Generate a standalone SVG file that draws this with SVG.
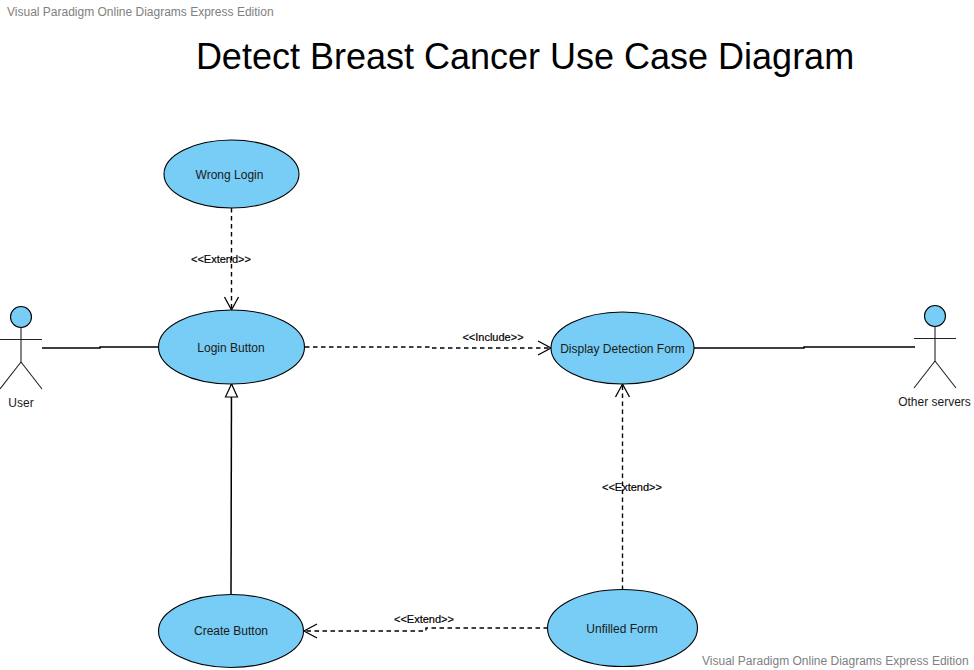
<svg xmlns="http://www.w3.org/2000/svg" width="974" height="670" viewBox="0 0 974 670">
<defs>
<marker id="open" markerUnits="userSpaceOnUse" markerWidth="16" markerHeight="18" refX="13" refY="7" orient="auto" viewBox="0 0 16 14" overflow="visible"><path d="M0 0L13 7L0 14" fill="none" stroke="#000" stroke-width="1.3"/></marker>
<marker id="tri" markerUnits="userSpaceOnUse" markerWidth="16" markerHeight="16" refX="13" refY="6" orient="auto" overflow="visible"><path d="M0 0L13 6L0 12Z" fill="#fff" stroke="#000" stroke-width="1.2"/></marker>
</defs>
<style>
text{font-family:"Liberation Sans",Arial,sans-serif;text-anchor:middle}
.uc{fill:#77cdf5;stroke:#000;stroke-width:1.1}
.lb{font-size:12px;fill:#1a1a1a}
.st{font-size:11px;fill:#000;stroke:#000;stroke-width:.2}
.wm{font-size:12px;fill:#808080;text-anchor:start}
.ln{fill:none;stroke:#000;stroke-width:1.5}
.ds{fill:none;stroke:#000;stroke-width:1.4;stroke-dasharray:4.5 3.5}
.ac{fill:none;stroke:#222;stroke-width:1.1}
</style>
<rect width="974" height="670" fill="#fff"/>
<text class="wm" x="7" y="16">Visual Paradigm Online Diagrams Express Edition</text>
<text class="wm" x="702" y="665">Visual Paradigm Online Diagrams Express Edition</text>
<text x="525" y="69" font-size="36" fill="#000">Detect Breast Cancer Use Case Diagram</text>
<g id="connectors">
<path class="ln" d="M42 348H100V347H158"/>
<path class="ln" d="M694 348H804V347H915"/>
<path class="ds" d="M231.500 208V310" marker-end="url(#open)"/>
<path class="ds" d="M305 347H430V348H551" marker-end="url(#open)"/>
<path class="ln" d="M231 595L231.500 384" marker-end="url(#tri)"/>
<path class="ds" d="M622.500 590V384" marker-end="url(#open)"/>
<path class="ds" d="M548 628H426V631H304" marker-end="url(#open)"/>
<text class="st" x="221" y="263">&lt;&lt;Extend&gt;&gt;</text>
<text class="st" x="493" y="341">&lt;&lt;Include&gt;&gt;</text>
<text class="st" x="632" y="491">&lt;&lt;Extend&gt;&gt;</text>
<text class="st" x="424" y="623">&lt;&lt;Extend&gt;&gt;</text>
</g>
<g id="wrong-login"><ellipse class="uc" cx="231.500" cy="174" rx="67.500" ry="34"/><text class="lb" x="229.500" y="179">Wrong Login</text></g>
<g id="login-button"><ellipse class="uc" cx="231.500" cy="347" rx="73" ry="37"/><text class="lb" x="231" y="352">Login Button</text></g>
<g id="display-detection-form"><ellipse class="uc" cx="622.500" cy="348" rx="71.500" ry="36"/><text class="lb" x="622.500" y="353">Display Detection Form</text></g>
<g id="create-button"><ellipse class="uc" cx="231" cy="631" rx="72.500" ry="36.500"/><text class="lb" x="231" y="635">Create Button</text></g>
<g id="unfilled-form"><ellipse class="uc" cx="622.500" cy="628" rx="75" ry="38.500"/><text class="lb" x="622" y="633">Unfilled Form</text></g>
<g id="user"><circle cx="21" cy="317" r="10.500" fill="#77cdf5" stroke="#000" stroke-width="1.1"/><path class="ac" d="M21 327.500V362M0 339.500H42M21 362L0 389M21 362L42 389"/><text class="lb" x="21" y="407">User</text></g>
<g id="other-servers"><circle cx="935" cy="316" r="10.500" fill="#77cdf5" stroke="#000" stroke-width="1.1"/><path class="ac" d="M935 326.500V361M914 338.500H956M935 361L914 388M935 361L956 388"/><text class="lb" x="934.500" y="406">Other servers</text></g>
</svg>
